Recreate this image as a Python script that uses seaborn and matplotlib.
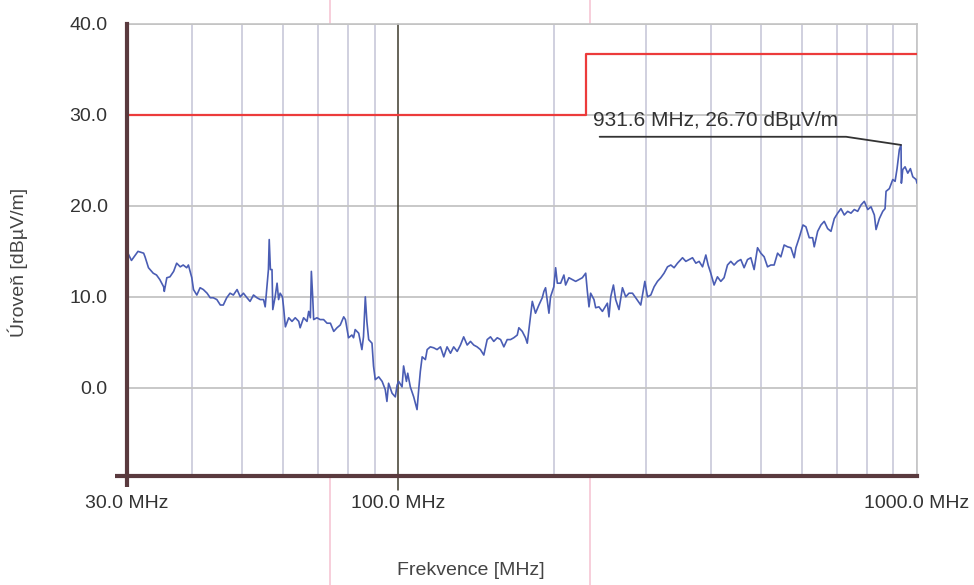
import numpy as np
import pandas as pd
import matplotlib
matplotlib.use("Agg")
import matplotlib.pyplot as plt
import seaborn as sns
from matplotlib.ticker import FixedLocator, FixedFormatter, NullFormatter
from matplotlib.lines import Line2D

# Measured trace (frequency in MHz, level in dBuV/m)
freq = [30.0, 30.6, 31.5, 32.3, 32.5, 33.0, 33.7, 34.2, 34.7, 35.3, 35.4, 35.8, 36.3, 36.9,
        37.4, 38.0, 38.5, 39.1, 39.4, 40.0, 40.3, 40.9, 41.5, 42.1, 42.8, 43.4, 44.0, 44.7,
        45.4, 46.0, 46.7, 47.4, 48.1, 48.9, 49.6, 50.3, 51.1, 51.8, 52.6, 53.4, 54.2, 55.0,
        55.4, 56.2, 56.4, 56.7, 57.1, 57.3, 57.9, 58.4, 58.8, 59.2, 59.8, 60.1,
        60.6, 61.5, 62.4, 63.3, 64.3, 64.7, 65.7, 66.7, 67.2, 67.7, 68.0, 68.4, 68.7, 69.7,
        70.7, 71.8, 72.9, 74.0, 75.1, 76.2, 77.3, 78.5, 79.1, 80.2, 81.4, 82.0, 82.6, 83.9,
        85.1, 85.7, 86.4, 87.0, 87.7, 89.0, 89.6, 90.3, 91.7, 93.1, 94.4, 95.1, 95.8, 97.3,
        98.7, 99.5, 100.2, 101.7, 102.4, 103.7, 104.3, 105.5, 107.1, 108.7, 109.5, 110.3,
        111.2, 112.8, 113.7, 115.3, 117.0, 118.8, 120.6, 122.4, 124.2,
        126.1, 127.9, 129.9, 131.8, 133.7, 135.8, 137.8, 139.8, 141.9, 144.0, 146.2, 148.4,
        150.6, 152.8, 155.2, 157.5, 159.8, 162.2, 164.6, 167.0, 169.6, 170.8, 173.4, 175.9,
        177.3, 178.6, 179.9, 181.3, 183.9, 186.7, 189.5, 190.9, 192.3, 195.2, 196.6, 199.5,
        201.1, 202.6, 205.6, 208.6, 210.2, 213.3, 216.6, 219.8, 223.0, 226.4, 229.8, 231.5,
        233.2, 234.9, 238.4, 240.2, 243.7, 247.5,
        253.0, 254.8, 256.8, 259.9, 262.5, 266.4, 270.5, 274.5, 278.5, 282.8, 286.9, 293.4,
        298.8, 302.3, 306.8, 311.3, 316.0, 320.7, 325.4, 330.4, 335.3, 340.2, 345.4, 353.2,
        358.4, 363.7, 369.2, 374.7, 380.2, 386.0, 391.7, 395.7, 400.4, 406.3, 412.4, 418.6,
        424.7, 431.2, 437.6, 444.0, 450.8, 457.5, 464.2, 471.3, 478.3, 485.3, 492.7, 500.0,
        507.4, 515.1, 522.7,
        530.4, 538.6, 546.5, 554.5, 563.0, 571.3, 579.8, 584.2, 592.8, 602.8, 610.8, 619.8,
        629.2, 633.7, 643.4, 652.9, 662.5, 672.6, 682.6, 692.7, 703.1, 713.5, 724.1, 735.1,
        746.0, 757.0, 768.5, 779.9, 791.4, 803.6, 815.4, 827.5, 833.8, 846.1, 859.0, 867.8,
        871.6, 884.5, 898.1, 907.3, 915.3, 924.7, 931.6, 933.0, 938.8, 948.4, 959.9, 971.1,
        981.5, 996.0, 1000.0]
level = [15.0, 14.0, 15.0, 14.8, 14.4, 13.2, 12.6, 12.4, 11.9, 11.1, 10.6, 12.1, 12.2, 12.8,
         13.7, 13.3, 13.5, 13.2, 13.5, 12.1, 10.8, 10.2, 11.0, 10.8, 10.4, 9.9, 9.9, 9.7,
         9.1, 9.1, 9.9, 10.4, 10.2, 10.8, 10.0, 10.4, 9.9, 9.5, 10.2, 9.9, 9.7, 9.7,
         8.9, 13.0, 16.3, 13.0, 13.0, 8.6, 10.0, 11.5, 9.7, 10.4, 10.0, 8.9,
         6.7, 7.7, 7.3, 7.7, 7.3, 6.6, 7.7, 7.3, 8.4, 7.7, 12.8, 10.0, 7.5, 7.7,
         7.5, 7.5, 7.1, 7.1, 6.2, 6.6, 6.9, 7.8, 7.5, 5.5, 5.8, 5.5, 6.4, 6.0,
         4.2, 5.6, 10.0, 7.3, 5.3, 4.9, 2.4, 0.9, 1.2, 0.7, -0.2, -1.5, 0.5, -0.6,
         -1.0, 0.3, 0.7, 0.1, 2.4, 0.7, 1.6, 0.1, -1.0, -2.4, -0.2, 1.8,
         3.4, 3.1, 4.2, 4.5, 4.4, 4.2, 4.5, 3.4, 4.5,
         3.8, 4.5, 4.0, 4.7, 5.6, 4.7, 5.1, 4.7, 4.5, 4.2, 3.6, 5.3,
         5.6, 5.1, 5.5, 5.3, 4.5, 5.3, 5.3, 5.5, 5.8, 6.6, 6.2, 5.5,
         4.9, 6.4, 7.8, 9.5, 8.2, 9.1, 9.9, 10.6, 11.0, 8.2, 10.0, 11.1,
         13.2, 11.5, 11.5, 12.4, 11.3, 12.1, 11.9, 11.7, 11.9, 12.1, 12.6, 10.6,
         8.9, 10.4, 9.7, 8.8, 8.9, 8.4,
         9.3, 7.8, 10.0, 11.3, 9.7, 8.6, 11.0, 10.0, 10.4, 10.4, 9.9, 9.1,
         11.7, 10.0, 10.2, 11.1, 11.7, 12.1, 12.6, 13.3, 13.5, 13.2, 13.7, 14.3,
         13.9, 14.1, 14.3, 13.7, 13.9, 13.3, 14.6, 13.5, 12.6, 11.3, 12.2, 11.7,
         12.1, 13.5, 13.9, 13.5, 13.9, 14.1, 13.2, 14.1, 14.3, 13.0, 15.4, 14.8,
         14.4, 13.3, 13.5,
         13.5, 14.8, 14.4, 15.7, 15.5, 15.4, 14.3, 15.4, 16.5, 17.9, 17.7, 16.5,
         16.5, 15.5, 17.2, 17.9, 18.3, 17.5, 17.2, 18.6, 19.2, 19.7, 19.0, 19.4,
         19.2, 19.6, 19.4, 20.1, 20.5, 19.6, 19.9, 19.0, 17.4, 18.6, 19.4, 19.7,
         21.6, 21.9, 22.9, 22.7, 24.1, 26.2, 26.7, 22.5, 24.0, 24.3, 23.6, 24.1,
         23.2, 22.9, 22.5]

# Limit line
limit_freq = [30, 230, 230, 1000]
limit_level = [30, 30, 36.7, 36.7]

# Peak marker
marker_freq = 931.6
marker_level = 26.70
leader_freq = [244.5, 730, 931.6]
leader_level = [27.6, 27.6, 26.7]

x_major = [30, 100, 1000]
x_major_labels = ["30.0 MHz", "100.0 MHz", "1000.0 MHz"]
x_minor = [40, 50, 60, 70, 80, 90, 200, 300, 400, 500, 600, 700, 800, 900]
y_ticks = [0, 10, 20, 30, 40]
y_tick_labels = ["0.0", "10.0", "20.0", "30.0", "40.0"]

sns.set_style("white")
plt.rcParams["font.family"] = ["Liberation Sans", "DejaVu Sans"]

trace = pd.DataFrame({"freq": freq, "level": level})
limit = pd.DataFrame({"freq": limit_freq, "level": limit_level})
leader = pd.DataFrame({"freq": leader_freq, "level": leader_level})

fig = plt.figure(figsize=(9.74, 5.85), dpi=100)
ax = fig.add_axes([127 / 974, 1 - 476 / 585, 790 / 974, 452 / 585])
ax.set_xscale("log")

grid_v = "#cdcddc"
grid_h = "#c4c4c4"
dark = "#5a3a3e"

# grid
for f in x_minor + [1000]:
    ax.axvline(f, color=grid_v, lw=1.3, zorder=1)
for y in y_ticks:
    ax.axhline(y, color=grid_h, lw=1.3, zorder=1)

# marker line at 100 MHz
ax.axvline(100, ymin=-0.03, ymax=1, color="#3d3a2c", lw=1.1, zorder=2, clip_on=False)

sns.lineplot(data=limit, x="freq", y="level", ax=ax, color="#ec3b3b", lw=1.6,
             sort=False, estimator=None, zorder=3)
sns.lineplot(data=trace, x="freq", y="level", ax=ax, color="#4a5db4", lw=1.2,
             sort=False, estimator=None, zorder=4)
sns.lineplot(data=leader, x="freq", y="level", ax=ax, color="#333333", lw=1.3,
             sort=False, estimator=None, zorder=5)

ax.text(237, 28.3, f"{marker_freq:.1f} MHz, {marker_level:.2f} dBµV/m",
        fontsize=15, color="#333333", ha="left", va="bottom", zorder=6)

ax.set_xlim(30, 1000)
ax.set_ylim(-9.7, 40)

ax.xaxis.set_major_locator(FixedLocator(x_major))
ax.xaxis.set_major_formatter(FixedFormatter(x_major_labels))
ax.xaxis.set_minor_locator(FixedLocator(x_minor))
ax.xaxis.set_minor_formatter(NullFormatter())
ax.set_yticks(y_ticks)
ax.set_yticklabels(y_tick_labels)

ax.tick_params(axis="x", which="both", length=8, width=1.2, color=grid_v,
               labelsize=14, labelcolor="#333333", pad=6)
ax.tick_params(axis="y", length=9, width=1.2, color=grid_h,
               labelsize=14, labelcolor="#333333", pad=5)

for side in ["top", "right"]:
    ax.spines[side].set_color(grid_h)
    ax.spines[side].set_linewidth(1.2)
for side in ["left", "bottom"]:
    ax.spines[side].set_color(dark)
    ax.spines[side].set_linewidth(3)
    ax.spines[side].set_zorder(7)

# axis line stubs past the corner
ax.plot([-0.015, 0], [0, 0], transform=ax.transAxes, color=dark, lw=3, clip_on=False,
        solid_capstyle="butt")
ax.plot([0, 0], [-0.025, 0], transform=ax.transAxes, color=dark, lw=3, clip_on=False,
        solid_capstyle="butt")

ax.set_xlabel("Frekvence [MHz]", fontsize=14, color="#444444")
ax.set_ylabel("Úroveň [dBµV/m]", fontsize=14, color="#444444")
ax.xaxis.set_label_coords(0.435, -0.19)
ax.yaxis.set_label_coords(-0.138, 0.473)
ax.yaxis.label.set_verticalalignment("center")

# faint pink scan lines across the page
for xf in [330 / 974, 590 / 974]:
    fig.add_artist(Line2D([xf, xf], [0, 1], transform=fig.transFigure,
                          color="#f6c6d4", lw=1.2, zorder=0))

fig.savefig("out.png", dpi=100, facecolor="white")
